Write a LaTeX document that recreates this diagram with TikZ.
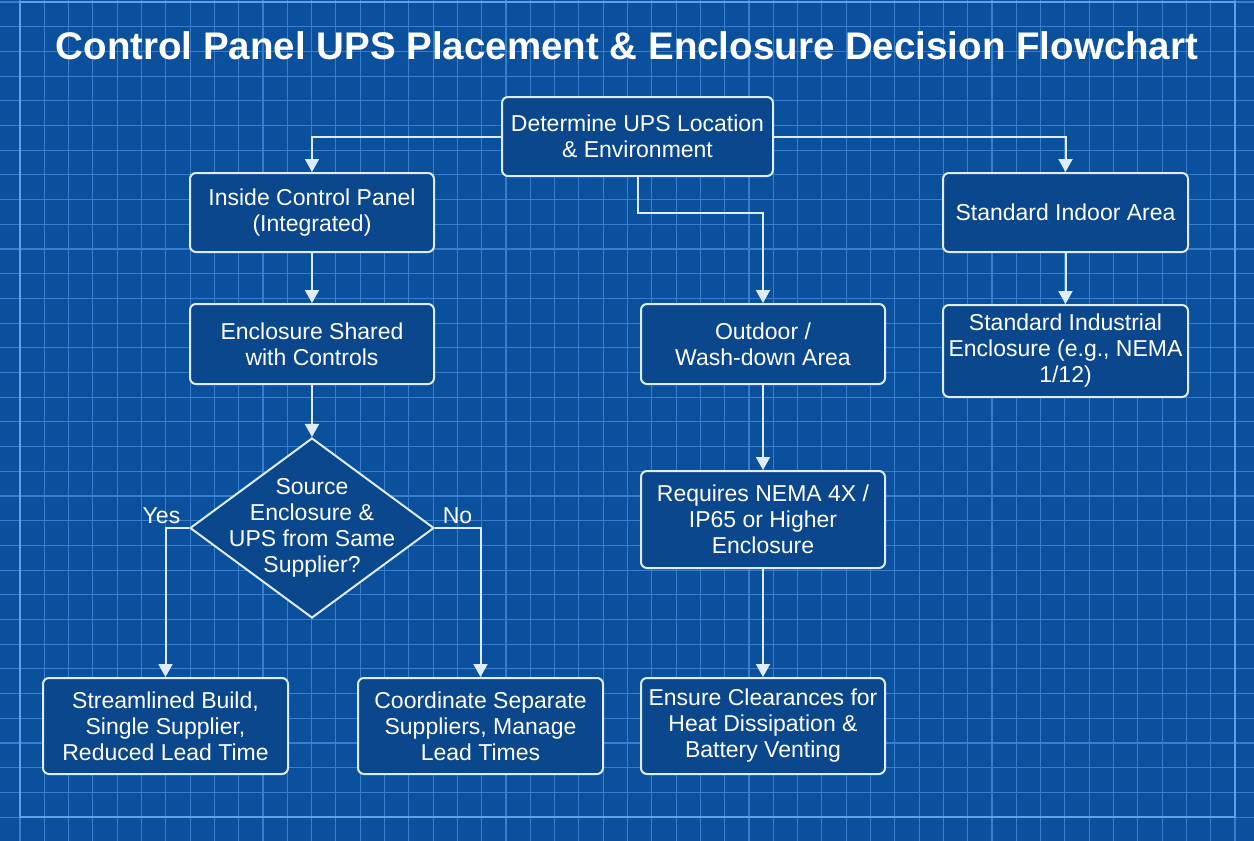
\documentclass[tikz,border=0pt]{standalone}
\usepackage{fontspec}
\setmainfont{Liberation Sans}
\usetikzlibrary{arrows.meta,shapes.geometric}

\definecolor{paper}{RGB}{10,80,156}
\definecolor{gridblue}{RGB}{55,126,206}
\definecolor{framblue}{RGB}{95,160,230}
\definecolor{boxfill}{RGB}{11,71,140}
\definecolor{boxline}{RGB}{222,236,252}

\tikzset{
  stepbox/.style={draw=boxline, line width=2pt, rounded corners=6pt, fill=boxfill,
        text=white, align=center, inner sep=2pt,
        font=\fontsize{23}{26}\selectfont},
  choice/.style={diamond, draw=boxline, line width=2pt, fill=boxfill, inner sep=0pt,
        minimum width=244pt, minimum height=180pt},
  flow/.style={draw=boxline, line width=2pt, -{Triangle[length=13pt,width=14pt]}},
  answer/.style={text=white, font=\fontsize{23}{26}\selectfont},
  gridline/.style={gridblue, line width=1.1pt}
}

\begin{document}
\begin{tikzpicture}[x=1pt,y=-1pt]
\useasboundingbox (0,0) rectangle (1254,841);
\fill[paper] (0,0) rectangle (1254,841);
\foreach \i in {0,...,50}
  \draw[gridline] ({20+24.3*\i},0) -- ({20+24.3*\i},841);
\foreach \j in {0,...,34}
  \draw[gridline] (0,{2+24.7*\j}) -- (1254,{2+24.7*\j});
\draw[framblue, line width=2pt] (20,2) rectangle (1235,817);

\node[text=white, font=\fontsize{38.5}{44}\selectfont\bfseries] (title) at (627,46)
        {Control Panel UPS Placement \& Enclosure Decision Flowchart};

\node[stepbox, minimum width=271pt, minimum height=79pt] (locate) at (637.5,136.5)
        {Determine UPS Location\\\& Environment};
\node[stepbox, minimum width=244pt, minimum height=79pt] (inside) at (312,212.5)
        {Inside Control Panel\\(Integrated)};
\node[stepbox, minimum width=245pt, minimum height=79pt] (indoor) at (1065.5,212.5)
        {Standard Indoor Area};
\node[stepbox, minimum width=244pt, minimum height=80pt] (shared) at (312,344)
        {Enclosure Shared\\with Controls};
\node[stepbox, minimum width=244pt, minimum height=80pt] (outdoor) at (763,344)
        {Outdoor /\\Wash-down Area};
\node[stepbox, minimum width=245pt, minimum height=92pt] (industrial) at (1065.5,351)
        {Standard Industrial\\Enclosure (e.g., NEMA\\1/12)};
\node[choice, label={[answer, align=center]center:{Source\\Enclosure \&\\UPS from Same\\Supplier?}}]
        (supplier) at (312,528) {};
\node[stepbox, minimum width=244pt, minimum height=97pt] (rating) at (763,519.5)
        {Requires NEMA 4X /\\IP65 or Higher\\Enclosure};
\node[stepbox, minimum width=245pt, minimum height=96pt] (streamlined) at (165.5,726)
        {Streamlined Build,\\Single Supplier,\\Reduced Lead Time};
\node[stepbox, minimum width=245pt, minimum height=96pt] (separate) at (480.5,726)
        {Coordinate Separate\\Suppliers, Manage\\Lead Times};
\node[stepbox, minimum width=244pt, minimum height=96pt] (clearance) at (763,726)
        {Ensure Clearances for\\Heat Dissipation \&\\Battery Venting};

\coordinate (split) at (637.5,213);

\draw[flow] (locate.west) -| (inside.north);
\draw[flow] (locate.east) -| (indoor.north);
\draw[flow] (locate.south) -- (split) -| (outdoor.north);
\draw[flow] (inside) -- (shared);
\draw[flow] (shared) -- (supplier);
\draw[flow] (indoor) -- (industrial);
\draw[flow] (outdoor) -- (rating);
\draw[flow] (rating) -- (clearance);
\draw[flow] (supplier.west) -| node[answer, pos=0.5, above, xshift=-4pt] (yes) {Yes} (streamlined.north);
\draw[flow] (supplier.east) -| node[answer, pos=0.5, above left, xshift=-4pt] (no) {No} (separate.north);
\end{tikzpicture}
\end{document}
